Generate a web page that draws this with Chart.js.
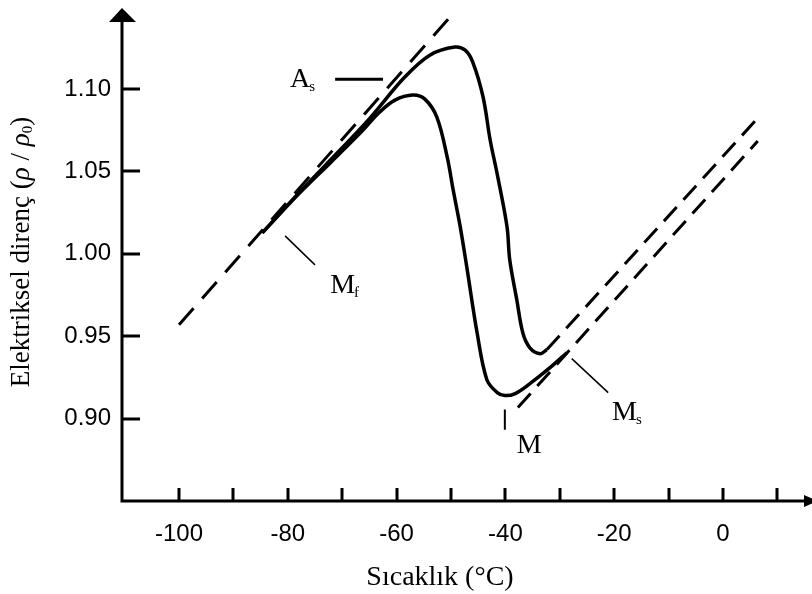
<!DOCTYPE html>
<html>
<head>
<meta charset="utf-8">
<script src="https://cdn.jsdelivr.net/npm/chart.js@4.4.1/dist/chart.umd.min.js"></script>
<style>
  html, body { margin: 0; padding: 0; background: #fff; }
  #wrap { width: 812px; height: 594px; }
</style>
</head>
<body>
<div id="wrap"><canvas id="chart1" width="812" height="594"></canvas></div>
<script>
// heating curve (upper loop branch), temperature in °C / relative resistance
var heatT = [-84.7, -77.8, -70.4, -64.9, -58.5, -53.9, -49.3, -47.4, -46.0, -44.1, -42.8, -41.4, -39.7, -39.2, -37.9, -36.8, -35.5, -33.6, -32.4];
var heatR = [1.0127, 1.0376, 1.063, 1.0824, 1.1073, 1.1206, 1.1255, 1.1236, 1.1164, 1.0952, 1.0691, 1.0467, 1.0164, 0.9964, 0.9721, 0.9521, 0.943, 0.9394, 0.9418];
// cooling curve (lower loop branch)
var coolT = [-84.7, -77.8, -72.2, -66.7, -63.1, -60.3, -57.0, -54.8, -52.6, -50.7, -49.6, -48.3, -47.1, -45.2, -43.4, -41.5, -40.1, -38.2, -35.5, -31.8, -28.7];
var coolR = [1.0127, 1.037, 1.0552, 1.0733, 1.0861, 1.0933, 1.0964, 1.0939, 1.083, 1.0588, 1.0388, 1.0164, 0.9921, 0.9521, 0.9236, 0.9158, 0.914, 0.9152, 0.9212, 0.9309, 0.94];
// dashed extrapolation lines
var lowBaseT = [-100, -49.3];
var lowBaseR = [0.957, 1.147];
var highBaseT = [-32.4, 6.4];
var highBaseR = [0.9418, 1.0824];
var highBase2T = [-37.7, 6.4];
var highBase2R = [0.9067, 1.0685];
// pointer lines for the labels
var asLineT = [-71.3, -62.5];
var asLineR = [1.106, 1.106];
var mfLineT = [-80.5, -75.0];
var mfLineR = [1.0109, 0.9933];
var msLineT = [-27.8, -21.1];
var msLineR = [0.9364, 0.9158];
var mLineT = [-40.1, -40.1];
var mLineR = [0.9055, 0.8933];

var xMarks = [-100, -90, -80, -70, -60, -50, -40, -30, -20, -10, 0, 10];
var xLabels = [-100, -80, -60, -40, -20, 0];
var yLabels = [0.90, 0.95, 1.00, 1.05, 1.10];

// label text, anchored at (temperature, resistance) = left/baseline
var notes = [
  { t: -79.6, r: 1.1012, main: "A", sub: "s" },
  { t: -72.2, r: 0.9764, main: "M", sub: "f" },
  { t: -20.4, r: 0.8994, main: "M", sub: "s" },
  { t: -37.9, r: 0.8794, main: "M", sub: "" }
];

function pts(xs, ys) {
  return xs.map(function(v, i) { return { x: v, y: ys[i] }; });
}

function ds(xs, ys, w, dash, tension) {
  return {
    data: pts(xs, ys),
    borderColor: "#000",
    borderWidth: w,
    borderDash: dash || [],
    pointRadius: 0,
    fill: false,
    tension: tension || 0,
    borderCapStyle: "butt"
  };
}

var axesPlugin = {
  id: "axesPlugin",
  afterDraw: function(chart) {
    var ctx = chart.ctx, a = chart.chartArea;
    var xs = chart.scales.x, ys = chart.scales.y;
    ctx.save();
    ctx.strokeStyle = "#000";
    ctx.fillStyle = "#000";
    ctx.lineWidth = 3;
    // axes
    ctx.beginPath();
    ctx.moveTo(a.left, a.bottom + 1.5);
    ctx.lineTo(a.left, a.top + 10);
    ctx.moveTo(a.left - 1.5, a.bottom);
    ctx.lineTo(a.right - 4, a.bottom);
    ctx.stroke();
    // arrow heads
    ctx.beginPath();
    ctx.moveTo(a.left, a.top - 2);
    ctx.lineTo(a.left - 13, a.top + 12);
    ctx.lineTo(a.left + 14, a.top + 12);
    ctx.closePath();
    ctx.fill();
    ctx.beginPath();
    ctx.moveTo(a.right - 6, a.bottom - 6);
    ctx.lineTo(a.right + 8, a.bottom);
    ctx.lineTo(a.right - 6, a.bottom + 6);
    ctx.closePath();
    ctx.fill();
    // tick marks, pointing inward
    ctx.beginPath();
    xMarks.forEach(function(v) {
      var p = Math.round(xs.getPixelForValue(v));
      ctx.moveTo(p, a.bottom);
      ctx.lineTo(p, a.bottom - 13);
    });
    yLabels.forEach(function(v) {
      var p = Math.round(ys.getPixelForValue(v));
      ctx.moveTo(a.left, p);
      ctx.lineTo(a.left + 18, p);
    });
    ctx.stroke();

    // curve labels
    notes.forEach(function(n) {
      var px = xs.getPixelForValue(n.t), py = ys.getPixelForValue(n.r);
      ctx.font = '28px "Liberation Serif"';
      ctx.textAlign = "left";
      ctx.textBaseline = "alphabetic";
      ctx.fillText(n.main, px, py);
      var w = ctx.measureText(n.main).width;
      if (n.sub) {
        ctx.font = '15px "Liberation Serif"';
        ctx.fillText(n.sub, px + w - 1, py + 4);
      }
    });

    // axis titles
    ctx.font = '28px "Liberation Serif"';
    ctx.textAlign = "center";
    ctx.textBaseline = "middle";
    ctx.fillText("Sıcaklık (°C)", 440, 578);

    ctx.translate(22, 252);
    ctx.rotate(-Math.PI / 2);
    var parts = [
      { s: "Elektriksel direnç (", f: '27px "Liberation Serif"', dy: 0 },
      { s: "ρ", f: 'italic 27px "Liberation Serif"', dy: 0 },
      { s: " / ", f: '27px "Liberation Serif"', dy: 0 },
      { s: "ρ", f: 'italic 27px "Liberation Serif"', dy: 0 },
      { s: "0", f: '15px "Liberation Serif"', dy: 6 },
      { s: ")", f: '27px "Liberation Serif"', dy: 0 }
    ];
    var total = 0;
    parts.forEach(function(p) { ctx.font = p.f; total += ctx.measureText(p.s).width; });
    var cx = -total / 2;
    ctx.textAlign = "left";
    ctx.textBaseline = "middle";
    parts.forEach(function(p) {
      ctx.font = p.f;
      ctx.fillText(p.s, cx, p.dy);
      cx += ctx.measureText(p.s).width;
    });
    ctx.restore();
  }
};

new Chart(document.getElementById("chart1"), {
  type: "line",
  data: {
    datasets: [
      ds(lowBaseT, lowBaseR, 3, [22, 13]),
      ds(highBaseT, highBaseR, 3, [19, 10]),
      ds(highBase2T, highBase2R, 3, [19, 10]),
      ds(heatT, heatR, 3.5, null, 0.35),
      ds(coolT, coolR, 3.5, null, 0.35),
      ds(asLineT, asLineR, 3),
      ds(mfLineT, mfLineR, 1.5),
      ds(msLineT, msLineR, 1.5),
      ds(mLineT, mLineR, 2)
    ]
  },
  options: {
    responsive: false,
    animation: false,
    layout: { padding: { top: 10, right: 2, left: 0, bottom: 0 } },
    plugins: { legend: { display: false }, tooltip: { enabled: false } },
    scales: {
      x: {
        type: "linear",
        min: -110.48,
        max: 16,
        afterFit: function(s) { s.height = 93; s.paddingLeft = 0; s.paddingRight = 0; },
        afterBuildTicks: function(s) { s.ticks = xLabels.map(function(v) { return { value: v }; }); },
        grid: { display: false, drawTicks: false },
        border: { display: false },
        ticks: {
          autoSkip: false, maxRotation: 0, color: "#000", padding: 19,
          font: { family: "Liberation Sans", size: 24 }
        }
      },
      y: {
        type: "linear",
        min: 0.85,
        max: 1.148,
        afterFit: function(s) { s.width = 122; s.paddingTop = 0; s.paddingBottom = 0; },
        afterBuildTicks: function(s) { s.ticks = yLabels.map(function(v) { return { value: v }; }); },
        grid: { display: false, drawTicks: false },
        border: { display: false },
        ticks: {
          autoSkip: false, color: "#000", padding: 11,
          font: { family: "Liberation Sans", size: 24 },
          callback: function(v) { return v.toFixed(2); }
        }
      }
    }
  },
  plugins: [axesPlugin]
});
</script>
</body>
</html>
